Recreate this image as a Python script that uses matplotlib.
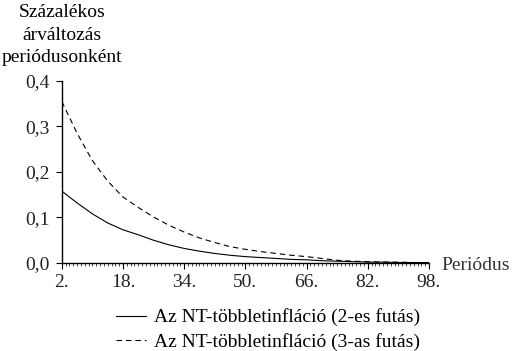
import matplotlib
matplotlib.use("Agg")
import matplotlib.pyplot as plt

# periods (every 4th period)
periods = [2, 6, 10, 14, 18, 22, 26, 30, 34, 38, 42, 46, 50,
           54, 58, 62, 66, 70, 74, 78, 82, 86, 90, 94, 98]

# NT excess inflation, run 2 (solid)
run2 = [0.158, 0.132, 0.108, 0.088, 0.073, 0.062, 0.050, 0.040, 0.032,
        0.026, 0.021, 0.017, 0.014, 0.012, 0.010, 0.008, 0.007, 0.005,
        0.004, 0.003, 0.002, 0.002, 0.001, 0.001, 0.001]

# NT excess inflation, run 3 (dashed)
run3 = [0.355, 0.285, 0.225, 0.180, 0.145, 0.122, 0.101, 0.083, 0.068,
        0.055, 0.045, 0.036, 0.030, 0.025, 0.021, 0.017, 0.014, 0.010,
        0.006, 0.004, 0.003, 0.002, 0.002, 0.001, 0.001]

x_ticks = [2, 18, 34, 50, 66, 82, 98]
x_tick_labels = ['2.', '18.', '34.', '50.', '66.', '82.', '98.']
y_ticks = [0.0, 0.1, 0.2, 0.3, 0.4]
y_tick_labels = ['0,0', '0,1', '0,2', '0,3', '0,4']

label_run2 = 'Az NT-többletinfláció (2-es futás)'
label_run3 = 'Az NT-többletinfláció (3-as futás)'

plt.rcParams['font.family'] = ['Liberation Serif', 'DejaVu Serif']
plt.rcParams['font.size'] = 14

fig = plt.figure(figsize=(5.15, 3.51), dpi=100)
ax = fig.add_axes([0.120, 0.2507, 0.713, 0.5186])

ax.plot(periods, run2, color='black', lw=0.8, label=label_run2)
ax.plot(periods, run3, color='black', lw=0.8, linestyle=(0, (5, 3.5)),
        label=label_run3)

ax.set_xlim(2, 98)
ax.set_ylim(0, 0.4)
ax.spines['top'].set_visible(False)
ax.spines['right'].set_visible(False)
ax.spines['left'].set_linewidth(1.0)
ax.spines['bottom'].set_linewidth(1.0)

ax.set_xticks(x_ticks, x_tick_labels)
ax.set_xticks(range(2, 99), minor=True)
ax.set_yticks(y_ticks, y_tick_labels)
ax.tick_params(axis='x', which='major', direction='out', length=4,
               width=0.8, pad=4)
ax.tick_params(axis='x', which='minor', direction='out', length=2,
               width=0.5)
ax.tick_params(axis='y', direction='out', length=4, width=0.8, pad=5)
for lbl in ax.get_xticklabels() + ax.get_yticklabels():
    lbl.set_color('#222222')

fig.text(0.120, 0.988, 'Százalékos\nárváltozás\nperiódusonként',
         ha='center', va='top', fontsize=14, linespacing=1.42)
fig.text(0.858, 0.244, 'Periódus', ha='left', va='center', fontsize=14,
         color='#333333')

fig.legend(loc='upper left', bbox_to_anchor=(0.225, 0.121), frameon=False,
           handlelength=1.55, handletextpad=0.4, labelspacing=0.32,
           borderaxespad=0, borderpad=0, fontsize=14)

fig.savefig('out.png', dpi=100)
